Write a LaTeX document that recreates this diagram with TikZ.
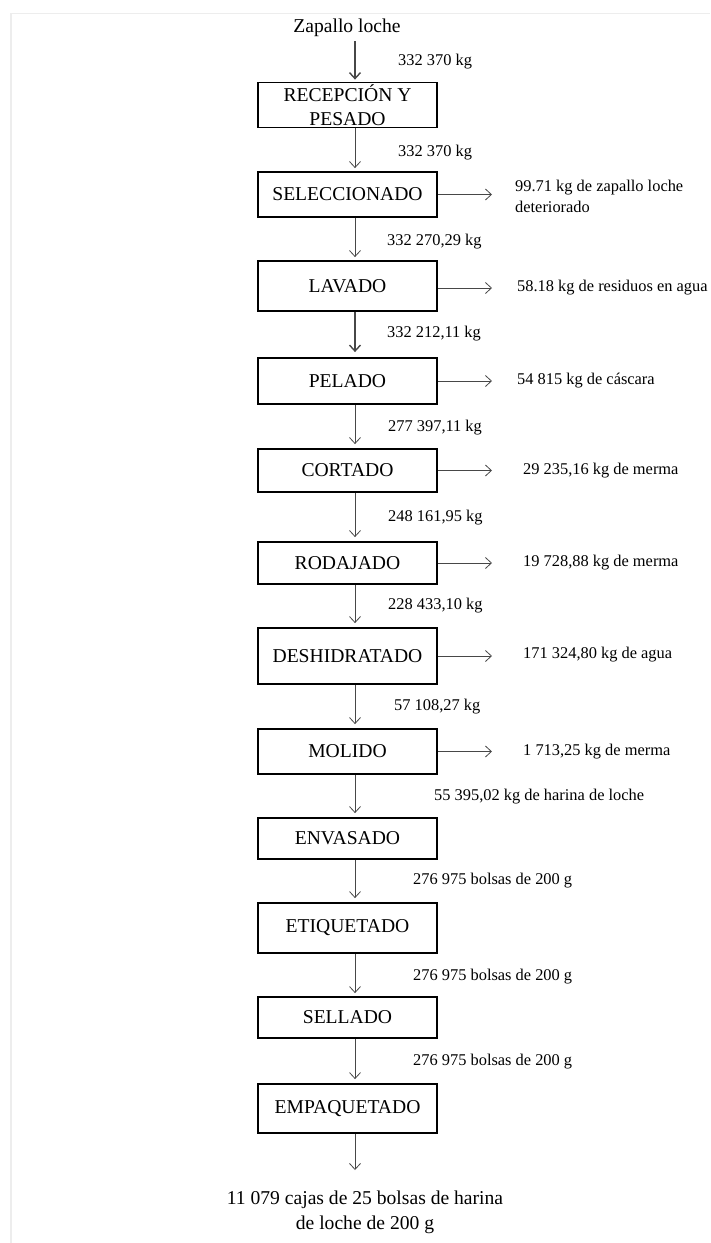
\documentclass[tikz,border=0pt]{standalone}
\usepackage{fontspec}
\setmainfont{Liberation Serif}
\usetikzlibrary{arrows.meta}
\begin{document}
\begin{tikzpicture}[x=1pt,y=-1pt,
  procbox/.style={draw=black,line width=1.8pt,minimum width=179pt,inner sep=0pt,
    font=\fontsize{19.6}{24.5}\selectfont,align=center},
  lbl/.style={anchor=west,inner sep=0pt,font=\fontsize{16.4}{21}\selectfont,align=left},
  big/.style={inner sep=0pt,font=\fontsize{19.6}{25}\selectfont,align=center},
  arr/.style={draw=black!72,line width=0.8pt,-{Straight Barb[length=6pt,width=11pt]}},
  arrb/.style={draw=black!72,line width=1.4pt,-{Straight Barb[length=6pt,width=11pt]}}]
\useasboundingbox (0,0) rectangle (710,1243);
\draw[black!7,line width=1.2pt] (11,1243) -- (11,13.5) -- (710,13.5);
\coordinate (X) at (355,0);
\coordinate (E) at (492,0);
% title
\node[big] (top) at (347,28) {Zapallo loche};
% boxes
\node[procbox,minimum height=45pt] (rec) at (347.5,105) {RECEPCIÓN Y\\PESADO};
\node[procbox,minimum height=45pt] (sel) at (347.5,194.5) {SELECCIONADO};
\node[procbox,minimum height=50pt] (lav) at (347.5,286) {LAVADO};
\node[procbox,minimum height=46pt] (pel) at (347.5,381) {PELADO};
\node[procbox,minimum height=43pt] (cor) at (347.5,470.5) {CORTADO};
\node[procbox,minimum height=42pt] (rod) at (347.5,563) {RODAJADO};
\node[procbox,minimum height=56pt] (des) at (347.5,656) {DESHIDRATADO};
\node[procbox,minimum height=45pt] (mol) at (347.5,751.5) {MOLIDO};
\node[procbox,minimum height=41pt] (env) at (347.5,838.5) {ENVASADO};
\node[procbox,minimum height=50pt] (eti) at (347.5,928) {ETIQUETADO};
\node[procbox,minimum height=41pt] (sell) at (347.5,1017.5) {SELLADO};
\node[procbox,minimum height=49pt] (emp) at (347.5,1108.5) {EMPAQUETADO};
\node[big] (fin) at (365,1212.5) {11 079 cajas de 25 bolsas de harina\\de loche de 200 g};
% vertical arrows
\draw[arrb] ([yshift=-4pt]top.south -| X) -- ([yshift=2pt]rec.north -| X);
\draw[arr] (rec.south -| X) -- ([yshift=3pt]sel.north -| X);
\draw[arr] (sel.south -| X) -- ([yshift=3pt]lav.north -| X);
\draw[arrb] (lav.south -| X) -- ([yshift=5pt]pel.north -| X);
\draw[arr] (pel.south -| X) -- ([yshift=4pt]cor.north -| X);
\draw[arr] (cor.south -| X) -- ([yshift=4pt]rod.north -| X);
\draw[arr] (rod.south -| X) -- ([yshift=4pt]des.north -| X);
\draw[arr] (des.south -| X) -- ([yshift=4pt]mol.north -| X);
\draw[arr] (mol.south -| X) -- ([yshift=4pt]env.north -| X);
\draw[arr] (env.south -| X) -- ([yshift=4pt]eti.north -| X);
\draw[arr] (eti.south -| X) -- ([yshift=3pt]sell.north -| X);
\draw[arr] (sell.south -| X) -- ([yshift=4pt]emp.north -| X);
\coordinate (endp) at (355,1170);
\draw[arr] (emp.south -| X) -- (endp);
% flow labels
\node[lbl] (f1) at (398,62) {332 370 kg};
\node[lbl] (f2) at (398,153) {332 370 kg};
\node[lbl] (f3) at (387,242) {332 270,29 kg};
\node[lbl] (f4) at (387,334) {332 212,11 kg};
\node[lbl] (f5) at (388,428) {277 397,11 kg};
\node[lbl] (f6) at (388,518) {248 161,95 kg};
\node[lbl] (f7) at (388,606) {228 433,10 kg};
\node[lbl] (f8) at (394,707) {57 108,27 kg};
\node[lbl] (f9) at (434,797) {55 395,02 kg de harina de loche};
\node[lbl] (f10) at (413,881) {276 975 bolsas de 200 g};
\node[lbl] (f11) at (413,977) {276 975 bolsas de 200 g};
\node[lbl] (f12) at (413,1062) {276 975 bolsas de 200 g};
% side outputs
\node[lbl] (o1) at (515,196.5) {99.71 kg de zapallo loche\\deteriorado};
\node[lbl] (o2) at (517,288) {58.18 kg de residuos en agua};
\node[lbl] (o3) at (517,381) {54 815 kg de cáscara};
\node[lbl] (o4) at (523,471) {29 235,16 kg de merma};
\node[lbl] (o5) at (523,563) {19 728,88 kg de merma};
\node[lbl] (o6) at (523,655) {171 324,80 kg de agua};
\node[lbl] (o7) at (523,752) {1 713,25 kg de merma};
\draw[arr] (sel.east) -- (sel.east -| E);
\draw[arr] (lav.east |- o2) -- (o2 -| E);
\draw[arr] (pel.east) -- (pel.east -| E);
\draw[arr] (cor.east) -- (cor.east -| E);
\draw[arr] (rod.east) -- (rod.east -| E);
\draw[arr] (des.east) -- (des.east -| E);
\draw[arr] (mol.east) -- (mol.east -| E);
\end{tikzpicture}
\end{document}
